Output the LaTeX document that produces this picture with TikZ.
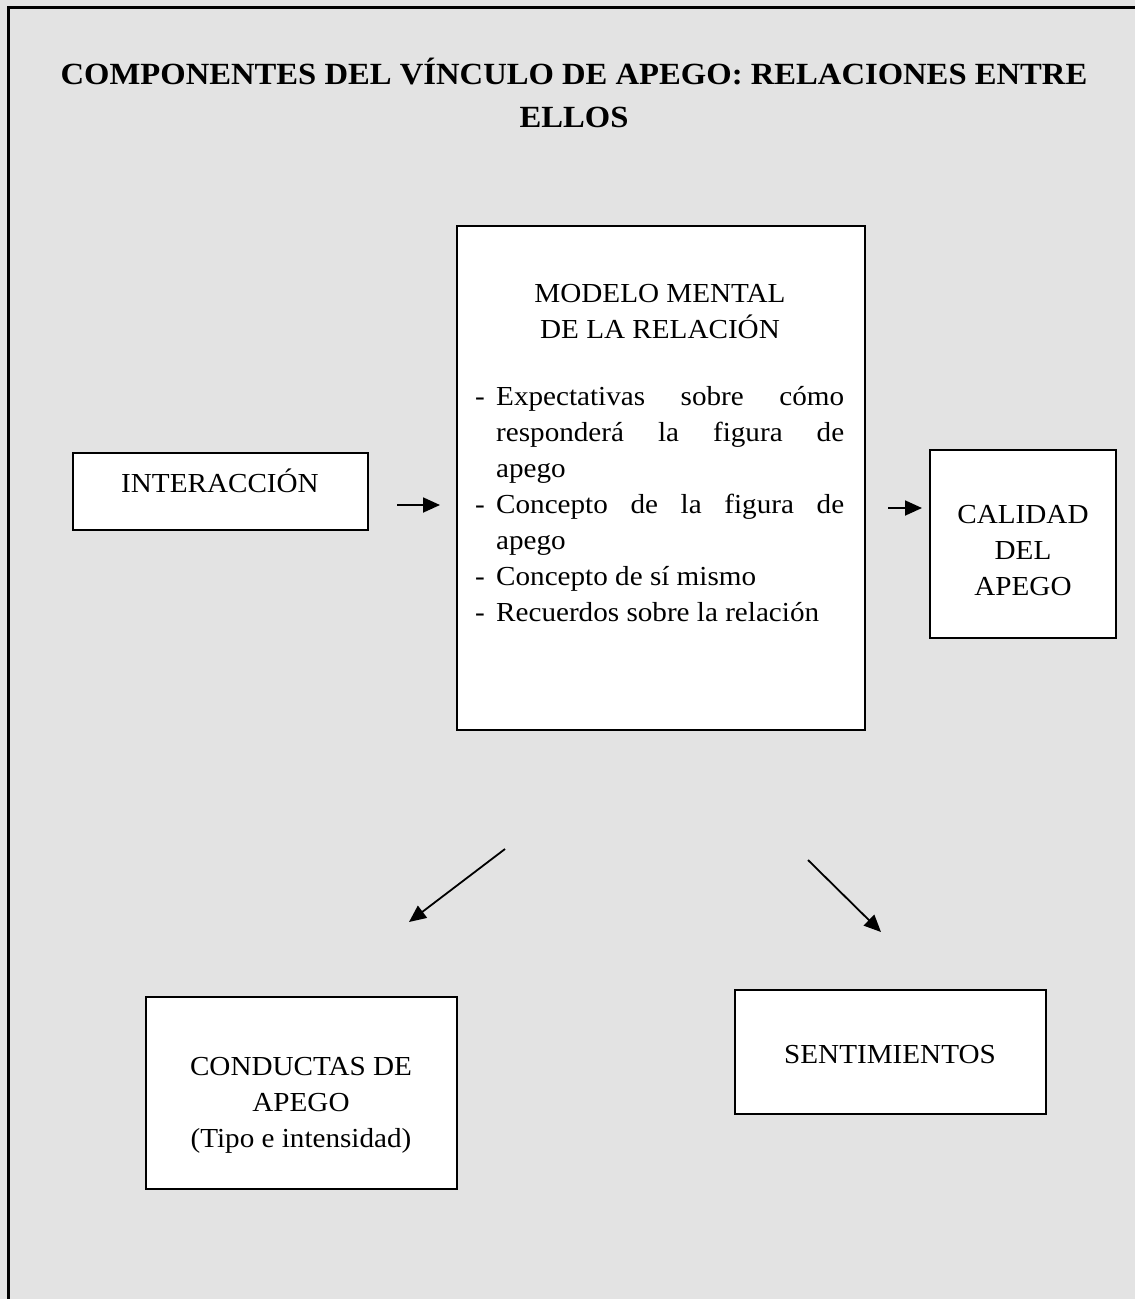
\documentclass[tikz,border=0pt]{standalone}
\usepackage{fontspec}
\setmainfont{Liberation Serif}[FakeStretch=1.06]
\usetikzlibrary{arrows.meta}
\definecolor{panel}{gray}{0.89}
\newcommand\listrow{\par\noindent\hangindent=21pt\hangafter=1\makebox[21pt][l]{-}}
\tikzset{
  box/.style={draw=black, line width=2.2pt, fill=white, inner sep=0pt},
  link/.style={line width=1.8pt, -{Triangle[length=17pt,width=15pt]}},
  body/.style={anchor=base, inner sep=0pt, font=\fontsize{27.5}{36}\selectfont},
  heading/.style={anchor=base, inner sep=0pt, font=\fontsize{30.8}{43}\selectfont\bfseries},
}
\begin{document}
\begin{tikzpicture}[x=1pt, y=-1pt]
  \useasboundingbox (0,0) rectangle (1135,1299);
  % backdrop and open frame
  \fill[panel] (0,0) rectangle (1135,1299);
  \draw[line width=3pt] (8,1299) -- (8,7) -- (1135,7);

  % heading
  \node[heading] (title) at (574,84)
    {\parbox[t]{1100pt}{\centering COMPONENTES DEL VÍNCULO DE APEGO: RELACIONES ENTRE\\ELLOS}};

  % boxes
  \node[box, minimum width=295pt, minimum height=77pt]  (inter) at (220.5,491.5) {};
  \node[box, minimum width=408pt, minimum height=504pt] (modelo) at (661,478) {};
  \node[box, minimum width=186pt, minimum height=188pt] (calidad) at (1023,544) {};
  \node[box, minimum width=311pt, minimum height=192pt] (conductas) at (301.5,1093) {};
  \node[box, minimum width=311pt, minimum height=124pt] (sentim) at (890.5,1052) {};

  % box texts
  \node[body] (intertxt) at (220,492) {INTERACCIÓN};
  \node[body] (modelotxt) at (660,302)
    {\parbox[t]{400pt}{\centering MODELO MENTAL\\DE LA RELACIÓN}};
  \node[body, anchor=base west] (items) at (475,405)
    {\parbox[t]{369pt}{\hyphenpenalty=10000\parindent=0pt
      \listrow Expectativas sobre cómo\linebreak responderá la figura de\linebreak apego
      \listrow Concepto de la figura de\linebreak apego
      \listrow Concepto de sí mismo
      \listrow Recuerdos sobre la relación}};
  \node[body] (calidadtxt) at (1023,523)
    {\parbox[t]{180pt}{\centering CALIDAD\\DEL\\APEGO}};
  \node[body] (conductastxt) at (301,1075)
    {\parbox[t]{300pt}{\centering CONDUCTAS DE\\APEGO\\(Tipo e intensidad)}};
  \node[body] (sentimtxt) at (890,1063) {SENTIMIENTOS};

  % arrow ends
  \coordinate (a1s) at (397,505);  \coordinate (a1e) at (440,505);
  \coordinate (a2s) at (888,508);  \coordinate (a2e) at (922,508);
  \coordinate (a3s) at (505,849);  \coordinate (a3e) at (409,922);
  \coordinate (a4s) at (808,860);  \coordinate (a4e) at (881,932);

  \draw[link] (a1s) -- (a1e);
  \draw[link] (a2s) -- (a2e);
  \draw[link] (a3s) -- (a3e);
  \draw[link] (a4s) -- (a4e);
\end{tikzpicture}
\end{document}
